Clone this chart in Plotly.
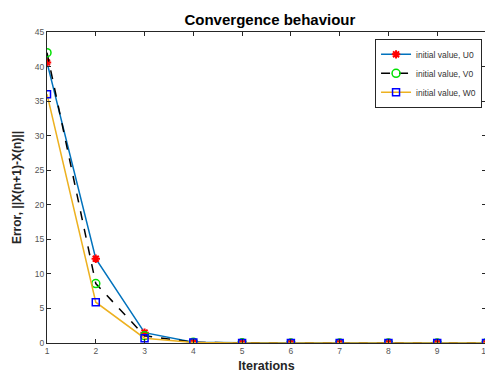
import plotly.graph_objects as go

iterations = [1, 2, 3, 4, 5, 6, 7, 8, 9, 10]
err_u0 = [40.6, 12.2, 1.5, 0.12, 0.02, 0.0, 0.0, 0.0, 0.0, 0.0]
err_v0 = [42.0, 8.6, 1.05, 0.10, 0.02, 0.0, 0.0, 0.0, 0.0, 0.0]
err_w0 = [36.0, 5.9, 0.7, 0.08, 0.01, 0.0, 0.0, 0.0, 0.0, 0.0]
names = ["initial value, U0", "initial value, V0", "initial value, W0"]
x_ticks = [1, 2, 3, 4, 5, 6, 7, 8, 9, 10]
y_ticks = [0, 5, 10, 15, 20, 25, 30, 35, 40, 45]

fig = go.Figure()
fig.add_trace(go.Scatter(x=iterations, y=err_u0, name=names[0], mode="lines+markers",
                         line=dict(color="#0072BD", width=1.5),
                         marker=dict(symbol="asterisk-open", size=7, color="red",
                                     line=dict(color="red", width=2))))
fig.add_trace(go.Scatter(x=iterations, y=err_v0, name=names[1], mode="lines+markers",
                         line=dict(color="black", width=1.5, dash="dash"),
                         marker=dict(symbol="circle-open", size=8, color="#00E000",
                                     line=dict(color="#00E000", width=1.5))))
fig.add_trace(go.Scatter(x=iterations, y=err_w0, name=names[2], mode="lines+markers",
                         line=dict(color="#EDB120", width=1.5),
                         marker=dict(symbol="square-open", size=7, color="blue",
                                     line=dict(color="blue", width=1.5))))

axis_common = dict(showline=True, linecolor="#262626", linewidth=1, mirror="allticks",
                   ticks="inside", ticklen=4, tickcolor="#262626", showgrid=False,
                   zeroline=False, tickfont=dict(size=8.5, color="#555555"))

fig.update_layout(
    width=485, height=365,
    margin=dict(l=39, r=2, t=24, b=29),
    paper_bgcolor="white", plot_bgcolor="white",
    font=dict(family="Liberation Sans, Arial, sans-serif", color="#262626"),
    title=dict(text="<b>Convergence behaviour</b>", x=0.54, xanchor="center",
               y=0.967, yanchor="middle", font=dict(size=15, color="black")),
    xaxis=dict(range=[1, 10], tickvals=x_ticks, ticktext=[str(t) for t in x_ticks],
               ticklabeloverflow="allow",
               title=dict(text="<b>Iterations</b>", font=dict(size=12.5, color="#262626"), standoff=6),
               **axis_common),
    yaxis=dict(range=[0, 45], tickvals=y_ticks, ticktext=[str(t) for t in y_ticks],
               title=dict(text="<b>Error, ||X(n+1)-X(n)||</b>", font=dict(size=12, color="#262626"), standoff=10),
               **axis_common),
    legend=dict(x=0.991, xanchor="right", y=0.978, yanchor="top",
                bgcolor="white", bordercolor="#262626", borderwidth=1,
                font=dict(size=8.5, color="#333333"), tracegroupgap=0, itemwidth=30),
    showlegend=True,
)

fig.write_html("out.html")
